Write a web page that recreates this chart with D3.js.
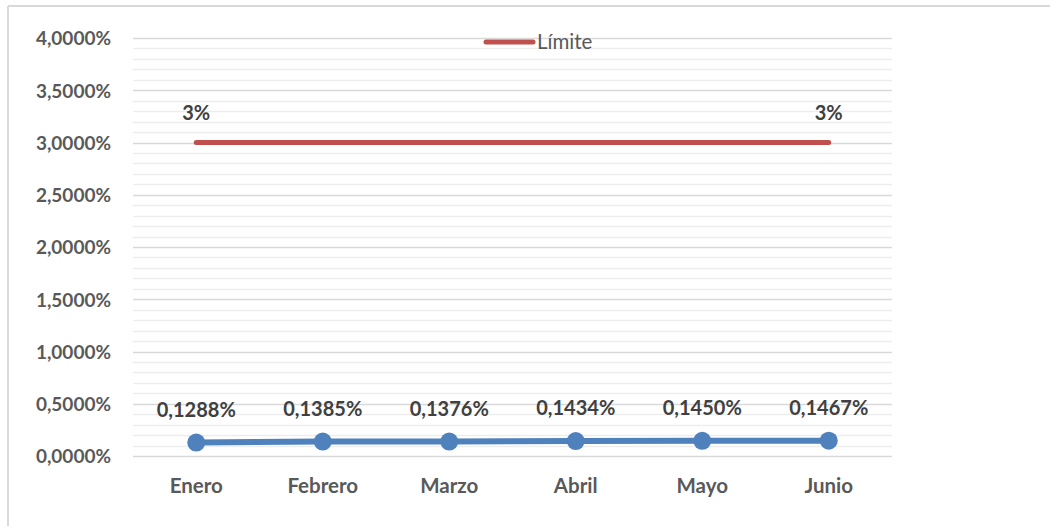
<!DOCTYPE html>
<html><head><meta charset="utf-8">
<script src="https://cdn.jsdelivr.net/npm/d3@7"></script>
<style>body{margin:0;background:#fff}svg{display:block}</style>
</head><body><svg id="c" width="1050" height="526"></svg>
<script>
const categories = ["Enero","Febrero","Marzo","Abril","Mayo","Junio"];
const valores = [0.1288,0.1385,0.1376,0.1434,0.1450,0.1467];
const valorLabels = ["0,1288%","0,1385%","0,1376%","0,1434%","0,1450%","0,1467%"];
const limite = [3,3,3,3,3,3];
const limiteLabels = ["3%","","","","","3%"];
const yTicks = [0,0.5,1,1.5,2,2.5,3,3.5,4];
const yMinor = d3.range(0,4.0001,0.1);

(function(){
const svg = d3.select("#c");
const font = "Lato, 'Open Sans', sans-serif";
const pLeft=133, pRight=892, pTop=38, pBottom=456;
const x = d3.scaleBand().domain(categories).range([pLeft,pRight]);
const y = d3.scaleLinear().domain([0,4]).range([pBottom,pTop]);
const cx = d => x(d)+x.bandwidth()/2;

// outer frame
svg.append("line").attr("x1",8).attr("x2",1050).attr("y1",6).attr("y2",6).attr("stroke","#d9d9d9").attr("stroke-width",2);
svg.append("line").attr("x1",8).attr("x2",8).attr("y1",6).attr("y2",526).attr("stroke","#d9d9d9").attr("stroke-width",2);

// minor grid
svg.append("g").selectAll("line").data(yMinor.filter(v=>Math.abs(v*2-Math.round(v*2))>0.01)).join("line")
  .attr("x1",pLeft).attr("x2",pRight).attr("y1",d=>Math.round(y(d))+0.5).attr("y2",d=>Math.round(y(d))+0.5)
  .attr("stroke","#ededed").attr("stroke-width",1.5);
// major grid
svg.append("g").selectAll("line").data(yTicks).join("line")
  .attr("x1",pLeft).attr("x2",pRight).attr("y1",d=>Math.round(y(d))+0.5).attr("y2",d=>Math.round(y(d))+0.5)
  .attr("stroke","#d9d9d9").attr("stroke-width",1.5);

// y axis
const yAxis = d3.axisLeft(y).tickValues(yTicks).tickSize(0).tickPadding(0)
  .tickFormat(d=>d3.format(".4f")(d).replace(".",",")+"%");
const ga = svg.append("g").attr("transform","translate(111,0)").call(yAxis);
ga.select(".domain").remove();
ga.selectAll("text").attr("font-family",font).attr("font-size",19).attr("font-weight","bold").attr("fill","#595959").attr("dy","0.36em");

// x axis
const xAxis = d3.axisBottom(x).tickSize(0).tickPadding(0);
const gx = svg.append("g").attr("transform","translate(0,478)").call(xAxis);
gx.select(".domain").remove();
gx.selectAll("text").attr("font-family",font).attr("font-size",20.5).attr("font-weight","bold").attr("fill","#595959");

// limite line
const line = d3.line().x((d,i)=>cx(categories[i])).y(d=>y(d));
svg.append("path").datum(limite).attr("d",line).attr("fill","none").attr("stroke","#c0504d").attr("stroke-width",5).attr("stroke-linecap","round");
svg.append("g").selectAll("text").data(limite).join("text")
  .attr("x",(d,i)=>cx(categories[i])).attr("y",d=>y(d)-23).attr("text-anchor","middle")
  .attr("font-family",font).attr("font-size",20).attr("font-weight","bold").attr("fill","#404040")
  .text((d,i)=>limiteLabels[i]);

// valores line
svg.append("path").datum(valores).attr("d",line).attr("fill","none").attr("stroke","#4f81bd").attr("stroke-width",6);
svg.append("g").selectAll("circle").data(valores).join("circle")
  .attr("cx",(d,i)=>cx(categories[i])).attr("cy",d=>y(d)).attr("r",9).attr("fill","#4f81bd");
svg.append("g").selectAll("text").data(valores).join("text")
  .attr("x",(d,i)=>cx(categories[i])).attr("y",d=>y(d)-26).attr("text-anchor","middle")
  .attr("font-family",font).attr("font-size",20).attr("font-weight","bold").attr("fill","#404040")
  .text((d,i)=>valorLabels[i]);

// legend
svg.append("line").attr("x1",486).attr("x2",533).attr("y1",42).attr("y2",42).attr("stroke","#c0504d").attr("stroke-width",5).attr("stroke-linecap","round");
svg.append("text").attr("x",537).attr("y",48.5).attr("font-family",font).attr("font-size",20.5).attr("fill","#595959").text("Límite");
})();
</script></body></html>
